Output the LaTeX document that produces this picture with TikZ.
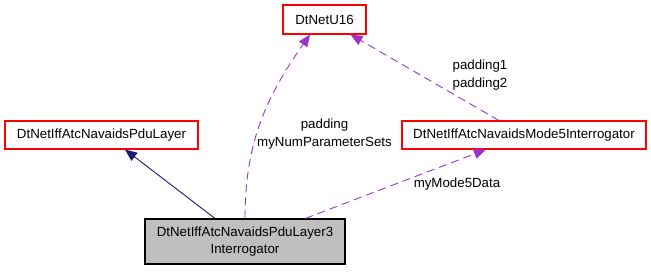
\documentclass[tikz,border=0pt]{standalone}
\usepackage{fontspec}
\setmainfont{Liberation Sans}
\usepackage{xcolor}
\usetikzlibrary{positioning, arrows.meta, calc}
\definecolor{cBOX}{HTML}{FF0000}
\definecolor{cMAIN}{HTML}{BFBFBF}
\definecolor{cINH}{HTML}{191970}
\definecolor{cUSE}{HTML}{9A32CD}
\tikzset{
  classbox/.style={
    draw=cBOX, line width=1.1pt,
    fill=white,
    inner sep=0pt,
    align=center,
    minimum height=28pt,
    font=\fontsize{13.3}{17}\selectfont
  },
  mainbox/.style={
    classbox,
    draw=black,
    fill=cMAIN,
    minimum width=200pt,
    minimum height=45pt
  },
  inherit/.style={
    -{Triangle[length=12pt,width=10pt]},
    line width=0.9pt,
    draw=cINH
  },
  usage/.style={
    -{Triangle[length=12pt,width=10pt]},
    line width=0.9pt,
    draw=cUSE,
    dash pattern=on 8pt off 5pt
  },
  edgelabel/.style={
    align=center,
    inner sep=1pt,
    font=\fontsize{13.3}{18}\selectfont
  }
}

\begin{document}
\begin{tikzpicture}[x=1pt, y=1pt]
  \useasboundingbox (0,0) rectangle (651,272);

  % classes
  \node[mainbox] (main) at (245,30.5) {DtNetIffAtcNavaidsPduLayer3\\Interrogator};
  \node[classbox, minimum width=193pt] (pdu) at (101.5,137) {DtNetIffAtcNavaidsPduLayer};
  \node[classbox, minimum width=244pt] (mode5) at (524,137) {DtNetIffAtcNavaidsMode5Interrogator};
  \node[classbox, minimum width=83pt, minimum height=29pt] (u16) at (324.5,252.5) {DtNetU16};

  % inheritance and usage
  \draw[inherit] ($(main.north)+(-30,0)$) -- ($(pdu.south)+(23.5,0)$);
  \draw[usage] (main.north) to[out=90, in=-125] ($(u16.south)+(-14.5,0)$);
  \draw[usage] (mode5) -- (u16);
  \draw[usage] (main) -- (mode5);

  % member names
  \node[edgelabel] (lblpad) at (324.5,138) {padding\\myNumParameterSets};
  \node[edgelabel] (lblpad12) at (480,197) {padding1\\padding2};
  \node[edgelabel] (lblmode5) at (457,88) {myMode5Data};
\end{tikzpicture}
\end{document}
